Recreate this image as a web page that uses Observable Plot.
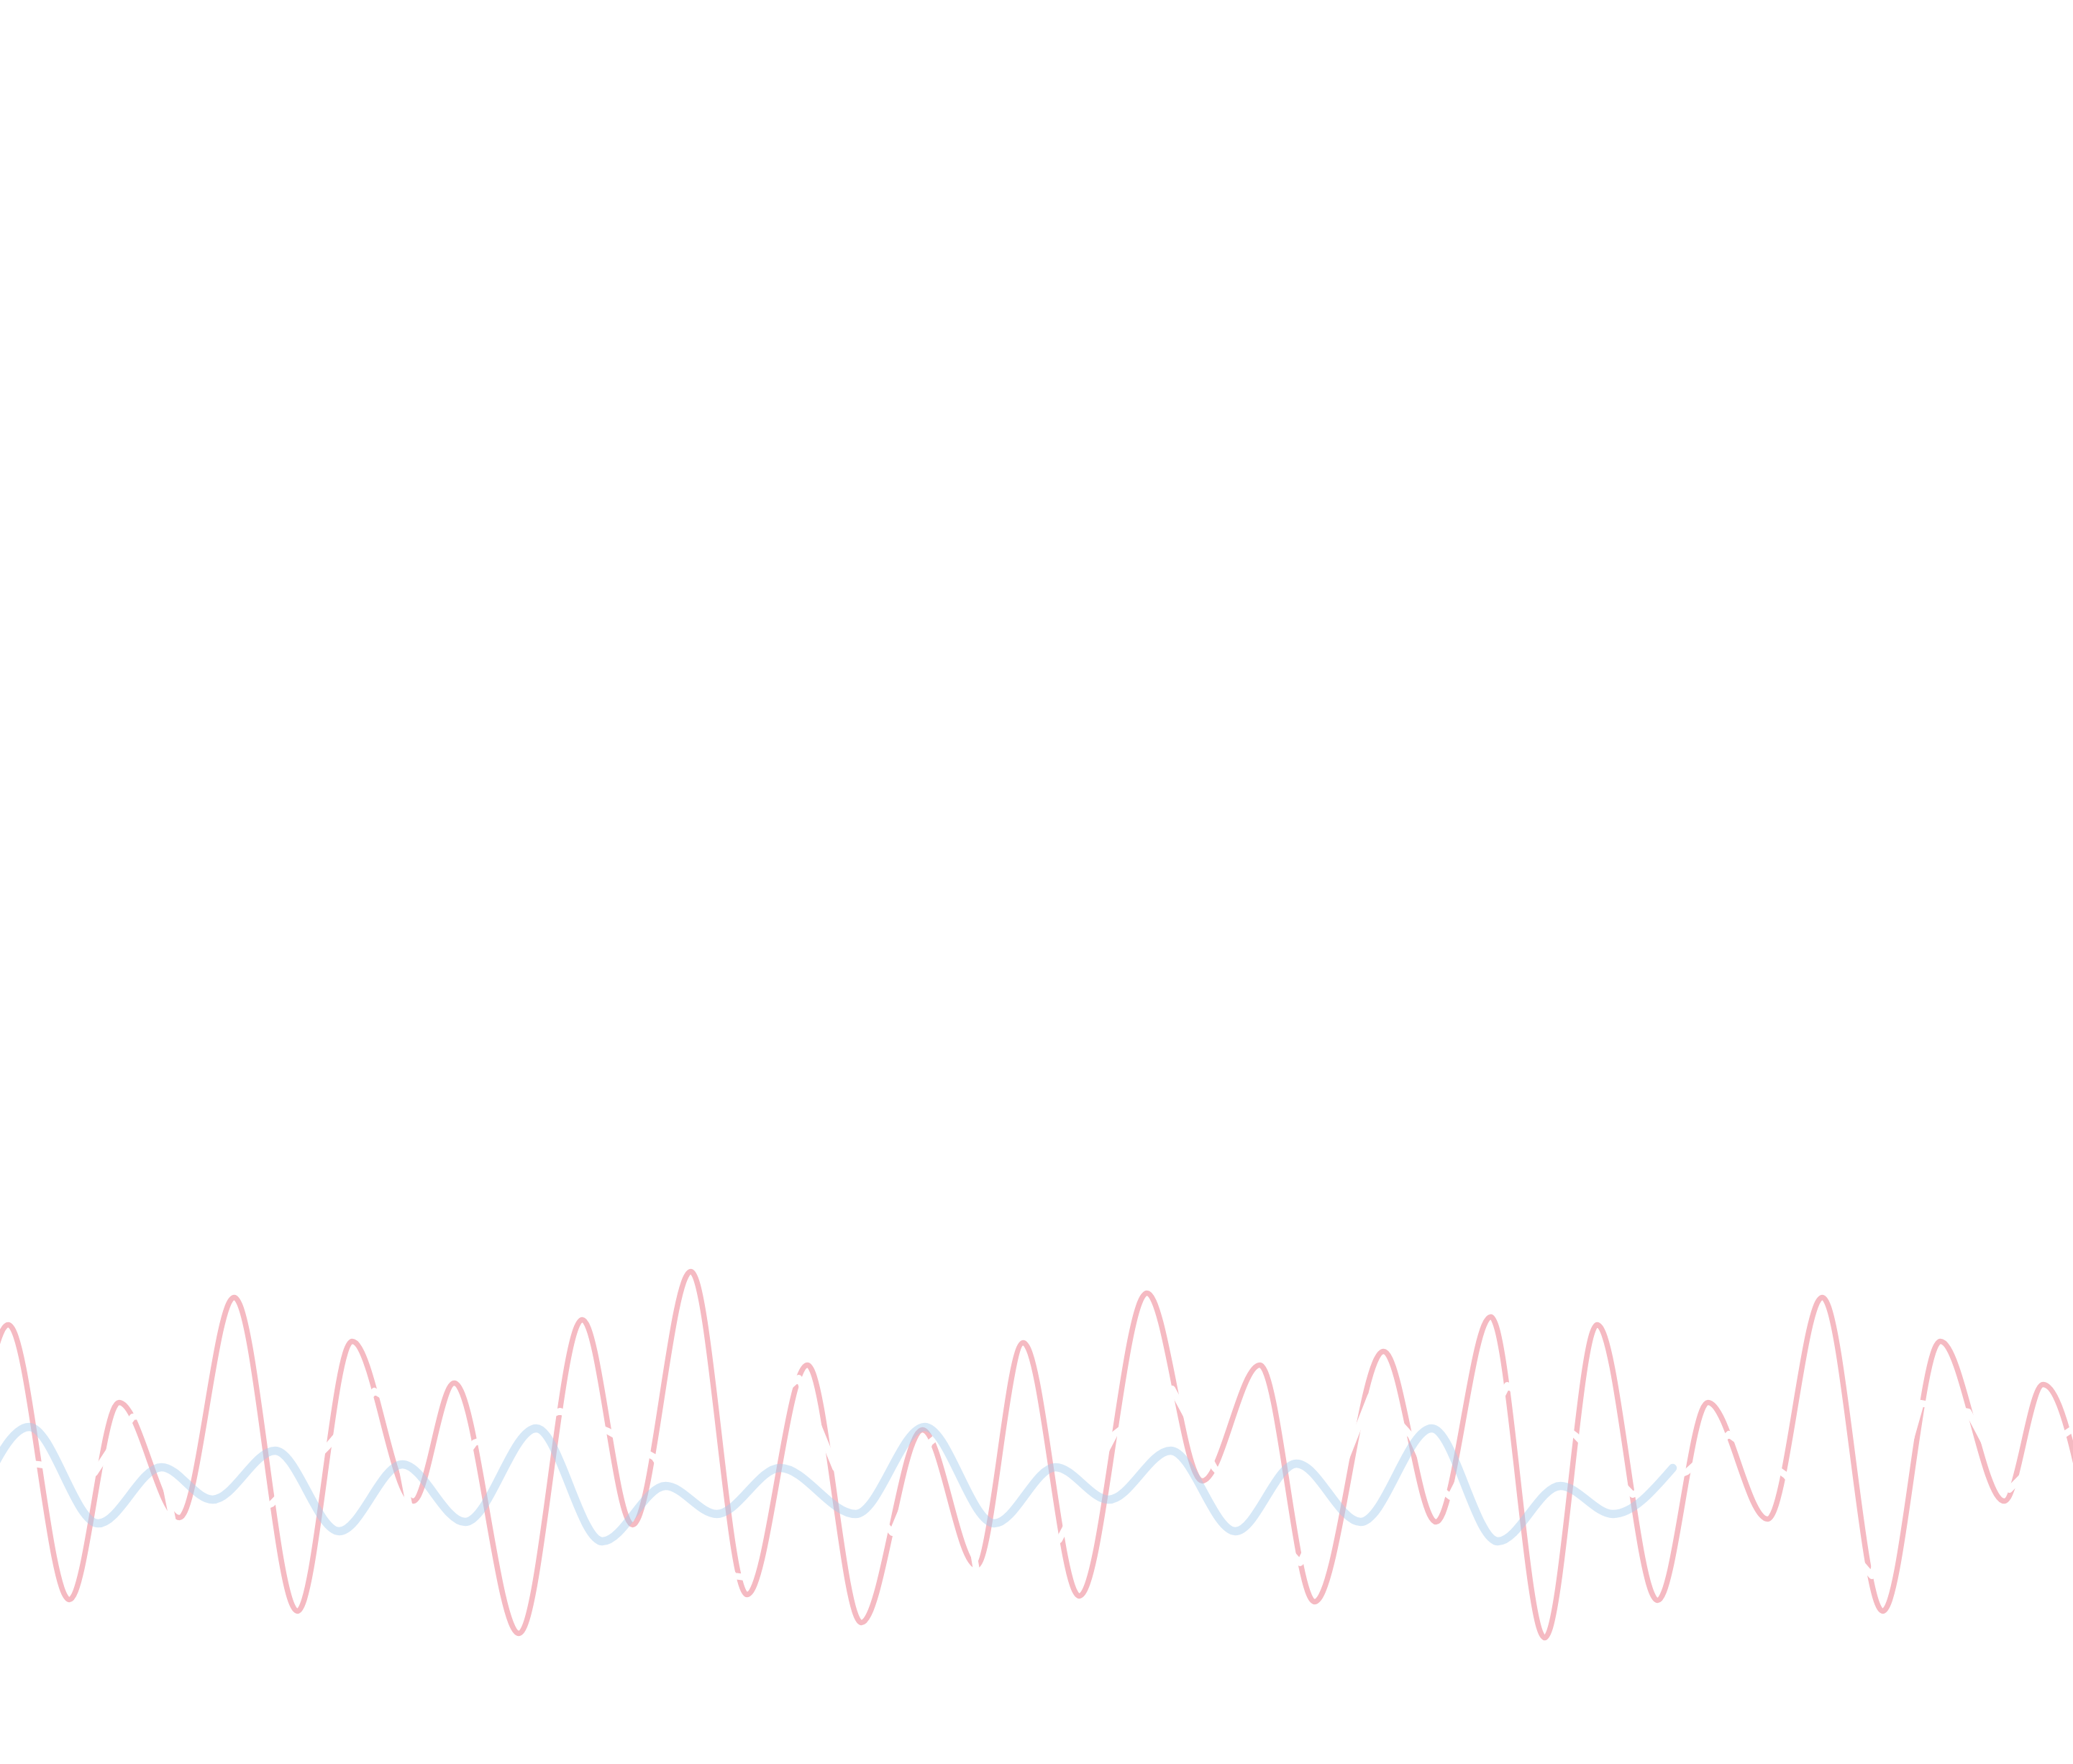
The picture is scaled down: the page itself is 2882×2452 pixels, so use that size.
<!DOCTYPE html>
<html>
<head>
<meta charset="utf-8">
<script src="https://cdn.jsdelivr.net/npm/d3@7"></script>
<script src="https://cdn.jsdelivr.net/npm/@observablehq/plot@0.6"></script>
<style>
  html, body { margin: 0; padding: 0; background: #ffffff; overflow: hidden; }
  #chart svg { display: block; }
</style>
</head>
<body>
<div id="chart"></div>
<script>
// ---- Pink series (extrema) ----
const pinkT = [-0.62, 0.11, 0.96, 1.65, 2.49, 3.25, 4.13, 4.89, 5.74, 6.31, 7.21, 8.09, 8.79, 9.60, 10.38, 11.22, 11.97, 12.82, 13.57, 14.22, 15.00, 15.94, 16.71, 17.51, 18.27, 19.23, 19.96, 20.72, 21.47, 22.20, 23.04, 23.74, 24.57, 25.33, 26.17, 26.97, 27.86, 28.40, 29.30];
const pinkV = [-2.51, 1.84, -1.98, 0.76, -0.84, 2.22, -2.14, 1.61, -0.61, 1.03, -2.45, 1.91, -0.94, 2.58, -1.91, 1.28, -2.30, 0.38, -1.51, 1.59, -1.93, 2.28, -0.33, 1.28, -2.01, 1.47, -0.90, 1.95, -2.51, 1.84, -1.99, 0.76, -0.86, 2.22, -2.14, 1.61, -0.61, 1.01, -2.45];

// ---- Blue series ----
const blueT = [-0.40, 0.40, 1.36, 2.24, 2.95, 3.82, 4.71, 5.59, 6.46, 7.45, 8.37, 9.25, 9.96, 10.84, 11.89, 12.85, 13.82, 14.67, 15.41, 16.27, 17.17, 18.02, 18.91, 19.90, 20.82, 21.69, 22.42, 23.25];
const blueV = [-0.79, 0.42, -0.92, -0.14, -0.59, 0.09, -1.03, -0.10, -0.90, 0.40, -1.17, -0.40, -0.79, -0.15, -0.79, 0.42, -0.92, -0.14, -0.59, 0.09, -1.03, -0.09, -0.90, 0.40, -1.17, -0.40, -0.79, -0.15];

// ---- White series (drawn between pink and blue) ----
const whiteT = [0.00, 0.53, 1.31, 1.65, 1.84, 2.10, 2.45, 2.55, 3.77, 4.55, 5.20, 5.40, 5.68, 5.80, 6.59, 7.78, 8.45, 9.09, 10.20, 10.35, 10.70, 11.10, 11.61, 12.40, 12.92, 13.10, 13.25, 13.60, 13.72, 14.72, 15.49, 16.29, 16.88, 17.60, 18.07, 18.50, 19.05, 19.25, 19.61, 19.90, 20.16, 20.95, 21.90, 22.69, 23.45, 24.03, 24.82, 26.02, 26.70, 27.36, 27.93, 28.67, 28.82];
const whiteV = [-0.05, -0.10, -0.22, 0.30, 0.56, 0.60, -1.15, -1.20, -0.65, 0.15, 0.92, 0.80, -0.65, -0.90, 0.20, 0.64, 0.36, 0.00, -1.65, -1.67, 0.75, 1.10, -0.15, -1.05, 0.20, 0.35, 0.35, -1.75, -1.80, -1.15, 0.32, 0.95, -0.15, -0.95, -1.47, -0.55, 0.85, 0.70, 0.30, -0.35, -0.55, 1.00, 0.30, -0.52, -0.20, 0.32, -0.25, -1.65, 0.75, 0.63, -0.45, 0.30, 0.40];

const rows = (ts, vs) => ts.map((t, i) => ({t, v: vs[i]}));
const pinkRows = rows(pinkT, pinkV);
const blueRows = rows(blueT, blueV);
const whiteRows = rows(whiteT, whiteV);

const chart = Plot.plot({
  width: 2882,
  height: 2452,
  margin: 0,
  style: {background: "#ffffff"},
  x: {domain: [0, 28.82], axis: null},
  y: {domain: [-4.27, 20.25], axis: null},
  marks: [
    Plot.line(pinkRows, {x: "t", y: "v", curve: "monotone-x", stroke: "#f5bac2", strokeWidth: 7.5, clip: true}),
    Plot.line(whiteRows, {x: "t", y: "v", curve: "linear", stroke: "#ffffff", strokeWidth: 9, clip: true}),
    Plot.line(blueRows, {x: "t", y: "v", curve: "monotone-x", stroke: "#a5cbee", strokeOpacity: 0.45, strokeWidth: 11.5, clip: true})
  ]
});
document.getElementById("chart").appendChild(chart);
</script>
</body>
</html>
